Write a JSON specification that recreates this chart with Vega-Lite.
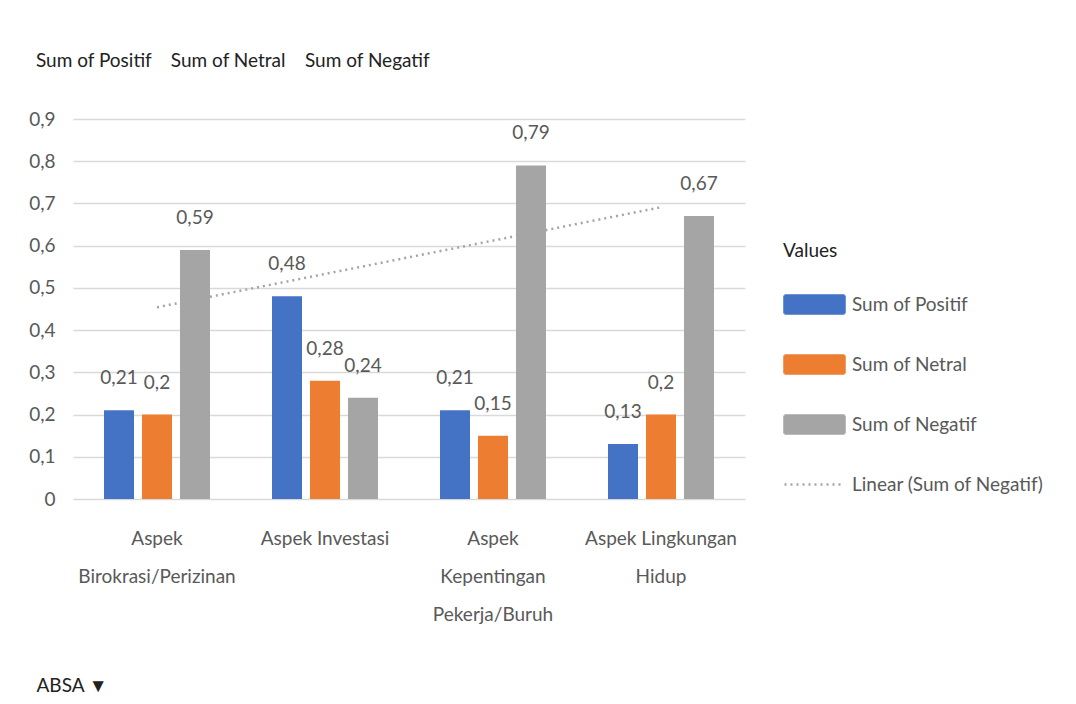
{
  "$schema": "https://vega.github.io/schema/vega-lite/v6.json",
  "width": 672,
  "height": 380,
  "autosize": {"type": "none"},
  "padding": {"left": 73, "top": 119, "right": 331, "bottom": 205},
  "background": "white",
  "config": {
    "view": {"stroke": null},
    "font": "Lato",
    "locale": {"number": {"decimal": ",", "thousands": ".", "grouping": [3], "currency": ["", ""]}}
  },
  "title": {
    "text": "Sum of Positif\u00a0\u00a0\u00a0\u00a0Sum of Netral\u00a0\u00a0\u00a0\u00a0Sum of Negatif",
    "anchor": "start",
    "frame": "group",
    "dx": -37,
    "offset": 30,
    "fontSize": 19,
    "fontWeight": "normal",
    "color": "#222222",
    "baseline": "middle"
  },
  "data": {
    "values": [
      {"aspek": "Aspek Birokrasi/Perizinan", "seri": "Sum of Positif", "nilai": 0.21},
      {"aspek": "Aspek Birokrasi/Perizinan", "seri": "Sum of Netral", "nilai": 0.2},
      {"aspek": "Aspek Birokrasi/Perizinan", "seri": "Sum of Negatif", "nilai": 0.59},
      {"aspek": "Aspek Investasi", "seri": "Sum of Positif", "nilai": 0.48},
      {"aspek": "Aspek Investasi", "seri": "Sum of Netral", "nilai": 0.28},
      {"aspek": "Aspek Investasi", "seri": "Sum of Negatif", "nilai": 0.24},
      {"aspek": "Aspek Kepentingan Pekerja/Buruh", "seri": "Sum of Positif", "nilai": 0.21},
      {"aspek": "Aspek Kepentingan Pekerja/Buruh", "seri": "Sum of Netral", "nilai": 0.15},
      {"aspek": "Aspek Kepentingan Pekerja/Buruh", "seri": "Sum of Negatif", "nilai": 0.79},
      {"aspek": "Aspek Lingkungan Hidup", "seri": "Sum of Positif", "nilai": 0.13},
      {"aspek": "Aspek Lingkungan Hidup", "seri": "Sum of Netral", "nilai": 0.2},
      {"aspek": "Aspek Lingkungan Hidup", "seri": "Sum of Negatif", "nilai": 0.67}
    ]
  },
  "encoding": {
    "x": {
      "field": "aspek",
      "type": "nominal",
      "sort": ["Aspek Birokrasi/Perizinan", "Aspek Investasi", "Aspek Kepentingan Pekerja/Buruh", "Aspek Lingkungan Hidup"],
      "scale": {"paddingInner": 0.369, "paddingOuter": 0.1845},
      "axis": {
        "title": "ABSA \u25bc",
        "titleAnchor": "start",
        "titleAlign": "left",
        "titleBaseline": "middle",
        "titleX": -37,
        "titleY": 186,
        "titleFontSize": 19,
        "titleFontWeight": "normal",
        "titleColor": "#222222",
        "labelAngle": 0,
        "labelFontSize": 19,
        "labelColor": "#595959",
        "labelPadding": 30,
        "labelLineHeight": 38,
        "labelBaseline": "top",
        "labelLimit": 0,
        "domain": false,
        "ticks": false,
        "labelExpr": "datum.value == 'Aspek Birokrasi/Perizinan' ? ['Aspek', 'Birokrasi/Perizinan'] : datum.value == 'Aspek Kepentingan Pekerja/Buruh' ? ['Aspek', 'Kepentingan', 'Pekerja/Buruh'] : datum.value == 'Aspek Lingkungan Hidup' ? ['Aspek Lingkungan', 'Hidup'] : datum.label"
      }
    },
    "y": {
      "field": "nilai",
      "type": "quantitative",
      "scale": {"domain": [0, 0.9], "nice": false},
      "axis": {
        "title": null,
        "values": [0, 0.1, 0.2, 0.3, 0.4, 0.5, 0.6, 0.7, 0.8, 0.9],
        "format": ".1~f",
        "labelFontSize": 19,
        "labelColor": "#595959",
        "labelPadding": 18,
        "domain": false,
        "ticks": false,
        "gridColor": "#d9d9d9",
        "gridWidth": 1.5
      }
    }
  },
  "layer": [
    {
      "mark": {"type": "bar"},
      "encoding": {
        "xOffset": {
          "field": "seri",
          "type": "nominal",
          "sort": ["Sum of Positif", "Sum of Netral", "Sum of Negatif"],
          "scale": {"paddingInner": 0.21, "paddingOuter": 0}
        },
        "color": {
          "field": "seri",
          "type": "nominal",
          "scale": {
            "domain": ["Sum of Positif", "Sum of Netral", "Sum of Negatif", "Linear (Sum of Negatif)"],
            "range": ["#4472c4", "#ed7d31", "#a5a5a5", "#a5a5a5"]
          },
          "legend": {
            "title": "Values",
            "orient": "none",
            "legendX": 710,
            "legendY": 123,
            "titleFontSize": 19,
            "titleFontWeight": "normal",
            "titleColor": "#222222",
            "titlePadding": 12,
            "labelFontSize": 19,
            "labelColor": "#595959",
            "labelOffset": 6,
            "symbolSize": 3600,
            "rowPadding": 14,
            "labelLimit": 0,
            "encode": {
              "symbols": {
                "update": {
                  "shape": {"signal": "datum.value === 'Linear (Sum of Negatif)' ? 'M-1,0H1' : 'M-1,-0.3H1V0.3H-1Z'"},
                  "size": {"value": 3600},
                  "fill": {"signal": "datum.value === 'Linear (Sum of Negatif)' ? 'transparent' : scale('color', datum.value)"},
                  "stroke": {"signal": "datum.value === 'Linear (Sum of Negatif)' ? '#a5a5a5' : 'transparent'"},
                  "strokeWidth": {"value": 2.5},
                  "strokeDash": {"signal": "datum.value === 'Linear (Sum of Negatif)' ? [2, 4] : [1, 0]"},
                  "opacity": {"value": 1}
                }
              }
            }
          }
        }
      }
    },
    {
      "mark": {"type": "text", "baseline": "middle", "dy": -32, "fontSize": 19, "color": "#595959"},
      "encoding": {
        "xOffset": {
          "field": "seri",
          "type": "nominal",
          "sort": ["Sum of Positif", "Sum of Netral", "Sum of Negatif"]
        },
        "text": {"field": "nilai", "type": "quantitative", "format": ".2~f"}
      }
    },
    {
      "data": {
        "values": [
          {"aspek": "Aspek Birokrasi/Perizinan", "seri": "Linear (Sum of Negatif)", "nilai": 0.454},
          {"aspek": "Aspek Lingkungan Hidup", "seri": "Linear (Sum of Negatif)", "nilai": 0.691}
        ]
      },
      "mark": {"type": "line", "strokeDash": [2, 4], "strokeWidth": 2.5},
      "encoding": {
        "color": {"field": "seri", "type": "nominal"}
      }
    }
  ]
}
